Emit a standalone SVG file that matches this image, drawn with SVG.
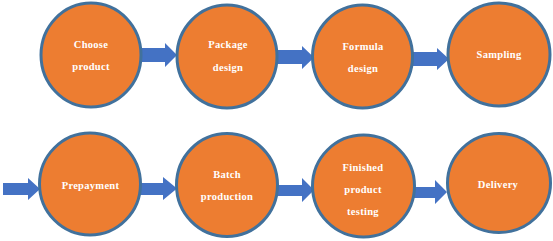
<svg xmlns="http://www.w3.org/2000/svg" width="553" height="241" viewBox="0 0 553 241">
<style>
.node ellipse{fill:#ED7D31;stroke:#41719C;stroke-width:3}
.node text{fill:#FFFFFF;font-family:"Liberation Serif","Times New Roman",serif;font-weight:bold;font-size:10.5px;text-anchor:middle;letter-spacing:0.3px}
.conn path{fill:#4472C4}
</style>
<rect width="553" height="241" fill="#FFFFFF"/>
<g class="conn" id="connectors">
<path d="M140,48 H165 V43 L177,55 L165,67 V62 H140 Z"/>
<path d="M276,50 H302 V46 L314,57.5 L302,69 V64 H276 Z"/>
<path d="M410,52 H437 V48 L449,59 L437,70 V66 H410 Z"/>
<path d="M3,183 H28 V178 L40,189 L28,200 V195 H3 Z"/>
<path d="M139,183 H163 V177 L177,188.5 L163,200 V195 H139 Z"/>
<path d="M276,185 H302 V178 L314,190 L302,202 V196 H276 Z"/>
<path d="M410,187 H435 V180 L447,192 L435,204 V198 H410 Z"/>
</g>
<g class="node" id="n1"><ellipse cx="91" cy="55" rx="50" ry="52"/><text x="91" y="48">Choose</text><text x="91" y="70">product</text></g>
<g class="node" id="n2"><ellipse cx="227" cy="56.5" rx="50" ry="51.5"/><text x="228" y="48">Package</text><text x="228" y="71">design</text></g>
<g class="node" id="n3"><ellipse cx="362.5" cy="56.5" rx="50" ry="51.5"/><text x="363" y="50">Formula</text><text x="363" y="72">design</text></g>
<g class="node" id="n4"><ellipse cx="499" cy="54.5" rx="51" ry="51.5"/><text x="499" y="58">Sampling</text></g>
<g class="node" id="n5"><ellipse cx="90" cy="184" rx="50.5" ry="51"/><text x="90.5" y="189">Prepayment</text></g>
<g class="node" id="n6"><ellipse cx="227" cy="185" rx="50.5" ry="51.5"/><text x="227" y="178">Batch</text><text x="227" y="200">production</text></g>
<g class="node" id="n7"><ellipse cx="363.5" cy="186" rx="51" ry="51"/><text x="363" y="171">Finished</text><text x="363" y="193">product</text><text x="363" y="215">testing</text></g>
<g class="node" id="n8"><ellipse cx="499" cy="183" rx="51.5" ry="49.5"/><text x="498" y="188">Delivery</text></g>
</svg>
